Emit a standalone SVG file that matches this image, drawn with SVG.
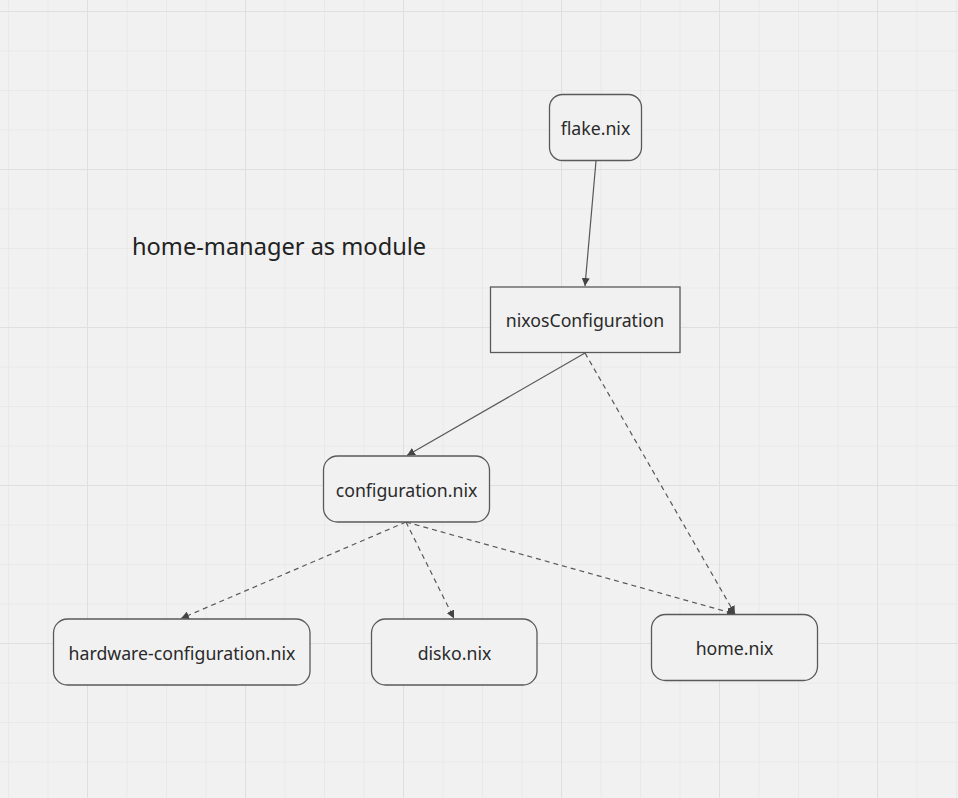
<svg xmlns="http://www.w3.org/2000/svg" width="958" height="798" viewBox="0 0 958 798">
<defs>
<pattern id="minor" x="8" y="11" width="39.5" height="39.5" patternUnits="userSpaceOnUse">
<path d="M0 0H39.5M0 0V39.5" fill="none" stroke="#e6e6e6" stroke-width="1.5"/>
</pattern>
<pattern id="major" x="87" y="11" width="158" height="158" patternUnits="userSpaceOnUse">
<path d="M0 0H158M0 0V158" fill="none" stroke="#dfdfdf" stroke-width="2"/>
</pattern>
<marker id="ah" viewBox="0 0 10 10" refX="10" refY="5" markerWidth="8" markerHeight="8" markerUnits="userSpaceOnUse" orient="auto">
<path d="M0 0L10 5L0 10z" fill="#444"/>
</marker>
</defs>
<style>
.node{fill:#f1f1f1;stroke:#5a5a5a;stroke-width:1.3}
.lbl{font-family:"Noto Sans","Open Sans",sans-serif;font-size:17.7px;fill:#2a2a2a;text-anchor:middle;dominant-baseline:central}
.edge{fill:none;stroke:#585858;stroke-width:1.2;marker-end:url(#ah)}
.dash{stroke-dasharray:5 4}
</style>
<rect width="958" height="798" fill="#f1f1f1"/>
<rect width="958" height="798" fill="url(#minor)"/>
<rect width="958" height="798" fill="url(#major)"/>

<text x="132" y="255" font-family="'Noto Sans','Open Sans',sans-serif" font-size="23.6" fill="#222">home-manager as module</text>

<g id="connectors">
<line class="edge" x1="596" y1="161" x2="585" y2="286"/>
<line class="edge" x1="585" y1="353" x2="407" y2="455.5"/>
<line class="edge dash" x1="585" y1="353" x2="735" y2="614"/>
<line class="edge dash" x1="406" y1="522" x2="181" y2="618.5"/>
<line class="edge dash" x1="406" y1="522" x2="454" y2="618.5"/>
<line class="edge dash" x1="406" y1="522" x2="735" y2="614"/>
</g>

<g id="flake">
<rect class="node" x="549.5" y="94.5" width="92" height="66" rx="13"/>
<text class="lbl" x="595.5" y="127.5">flake.nix</text>
</g>
<g id="nixosConfiguration">
<rect class="node" x="490.5" y="287" width="189.5" height="65.5"/>
<text class="lbl" x="585" y="320">nixosConfiguration</text>
</g>
<g id="configuration">
<rect class="node" x="323.5" y="456" width="166" height="66" rx="14"/>
<text class="lbl" x="406.5" y="489.5">configuration.nix</text>
</g>
<g id="hardware">
<rect class="node" x="53.5" y="619" width="256.5" height="66" rx="14"/>
<text class="lbl" x="182" y="652.5">hardware-configuration.nix</text>
</g>
<g id="disko">
<rect class="node" x="371.5" y="619" width="165.5" height="66" rx="14"/>
<text class="lbl" x="454.5" y="652.5">disko.nix</text>
</g>
<g id="home">
<rect class="node" x="651.5" y="614.5" width="166" height="66" rx="14"/>
<text class="lbl" x="734.5" y="647.5">home.nix</text>
</g>
</svg>
